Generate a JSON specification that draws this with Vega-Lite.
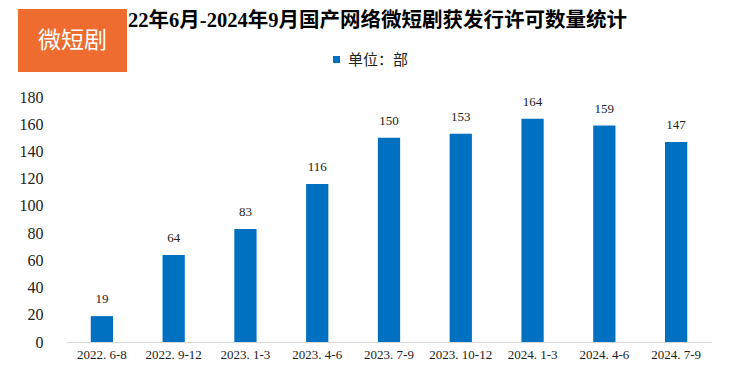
{
  "$schema": "https://vega.github.io/schema/vega-lite/v6.json",
  "background": "white",
  "padding": {"left": 18, "top": 9, "right": 0, "bottom": 0},
  "config": {"view": {"stroke": null}, "concat": {"spacing": 0}},
  "spacing": 17,
  "vconcat": [
    {
      "spacing": 0,
      "hconcat": [
        {
          "width": 109,
          "height": 63,
          "view": {"fill": "#EE6C2F", "stroke": null},
          "data": {"values": [{"label": "微短剧"}]},
          "mark": {"type": "text", "color": "white", "fontSize": 23, "font": "Noto Sans CJK SC", "baseline": "middle", "align": "center"},
          "encoding": {"text": {"field": "label"}}
        },
        {
          "width": 501,
          "height": 24,
          "data": {"values": [{"t": "22年6月-2024年9月国产网络微短剧获发行许可数量统计"}]},
          "mark": {"type": "text", "color": "black", "fontSize": 20.5, "fontWeight": "bold", "font": "Liberation Serif, Noto Sans CJK SC", "baseline": "middle", "align": "center"},
          "encoding": {"text": {"field": "t"}}
        }
      ]
    },
    {
      "width": 694,
      "height": 245,
      "data": {
        "values": [
          {"period": "2022. 6-8", "count": 19},
          {"period": "2022. 9-12", "count": 64},
          {"period": "2023. 1-3", "count": 83},
          {"period": "2023. 4-6", "count": 116},
          {"period": "2023. 7-9", "count": 150},
          {"period": "2023. 10-12", "count": 153},
          {"period": "2024. 1-3", "count": 164},
          {"period": "2024. 4-6", "count": 159},
          {"period": "2024. 7-9", "count": 147}
        ]
      },
      "encoding": {
        "x": {
          "field": "period",
          "type": "nominal",
          "sort": null,
          "scale": {"range": [48, 694], "paddingInner": 0.69, "paddingOuter": 0.345},
          "axis": {"title": null, "labelAngle": 0, "ticks": false, "domainColor": "#d9d9d9", "domainWidth": 1, "labelFont": "Liberation Serif", "labelFontSize": 13, "labelColor": "#222", "labelPadding": 6}
        },
        "y": {
          "field": "count",
          "type": "quantitative",
          "scale": {"domain": [0, 180]},
          "axis": {"title": null, "offset": -48, "values": [0, 20, 40, 60, 80, 100, 120, 140, 160, 180], "grid": false, "domain": false, "ticks": false, "labelFont": "Liberation Serif", "labelFontSize": 16, "labelColor": "#222", "labelPadding": 23}
        }
      },
      "layer": [
        {
          "mark": {"type": "bar"},
          "encoding": {
            "color": {
              "datum": "单位：部",
              "type": "nominal",
              "scale": {"range": ["#0070C0"]},
              "legend": {"title": null, "orient": "none", "legendX": 311, "legendY": 43, "symbolType": "square", "symbolSize": 49, "symbolStrokeWidth": 0, "labelFont": "Noto Sans CJK SC", "labelFontSize": 15, "labelColor": "#222", "padding": 0, "labelOffset": 4}
            }
          }
        },
        {
          "mark": {"type": "text", "dy": -17, "font": "Liberation Serif", "fontSize": 13, "color": "#222", "baseline": "middle"},
          "encoding": {"text": {"field": "count", "type": "quantitative"}}
        }
      ]
    }
  ]
}
